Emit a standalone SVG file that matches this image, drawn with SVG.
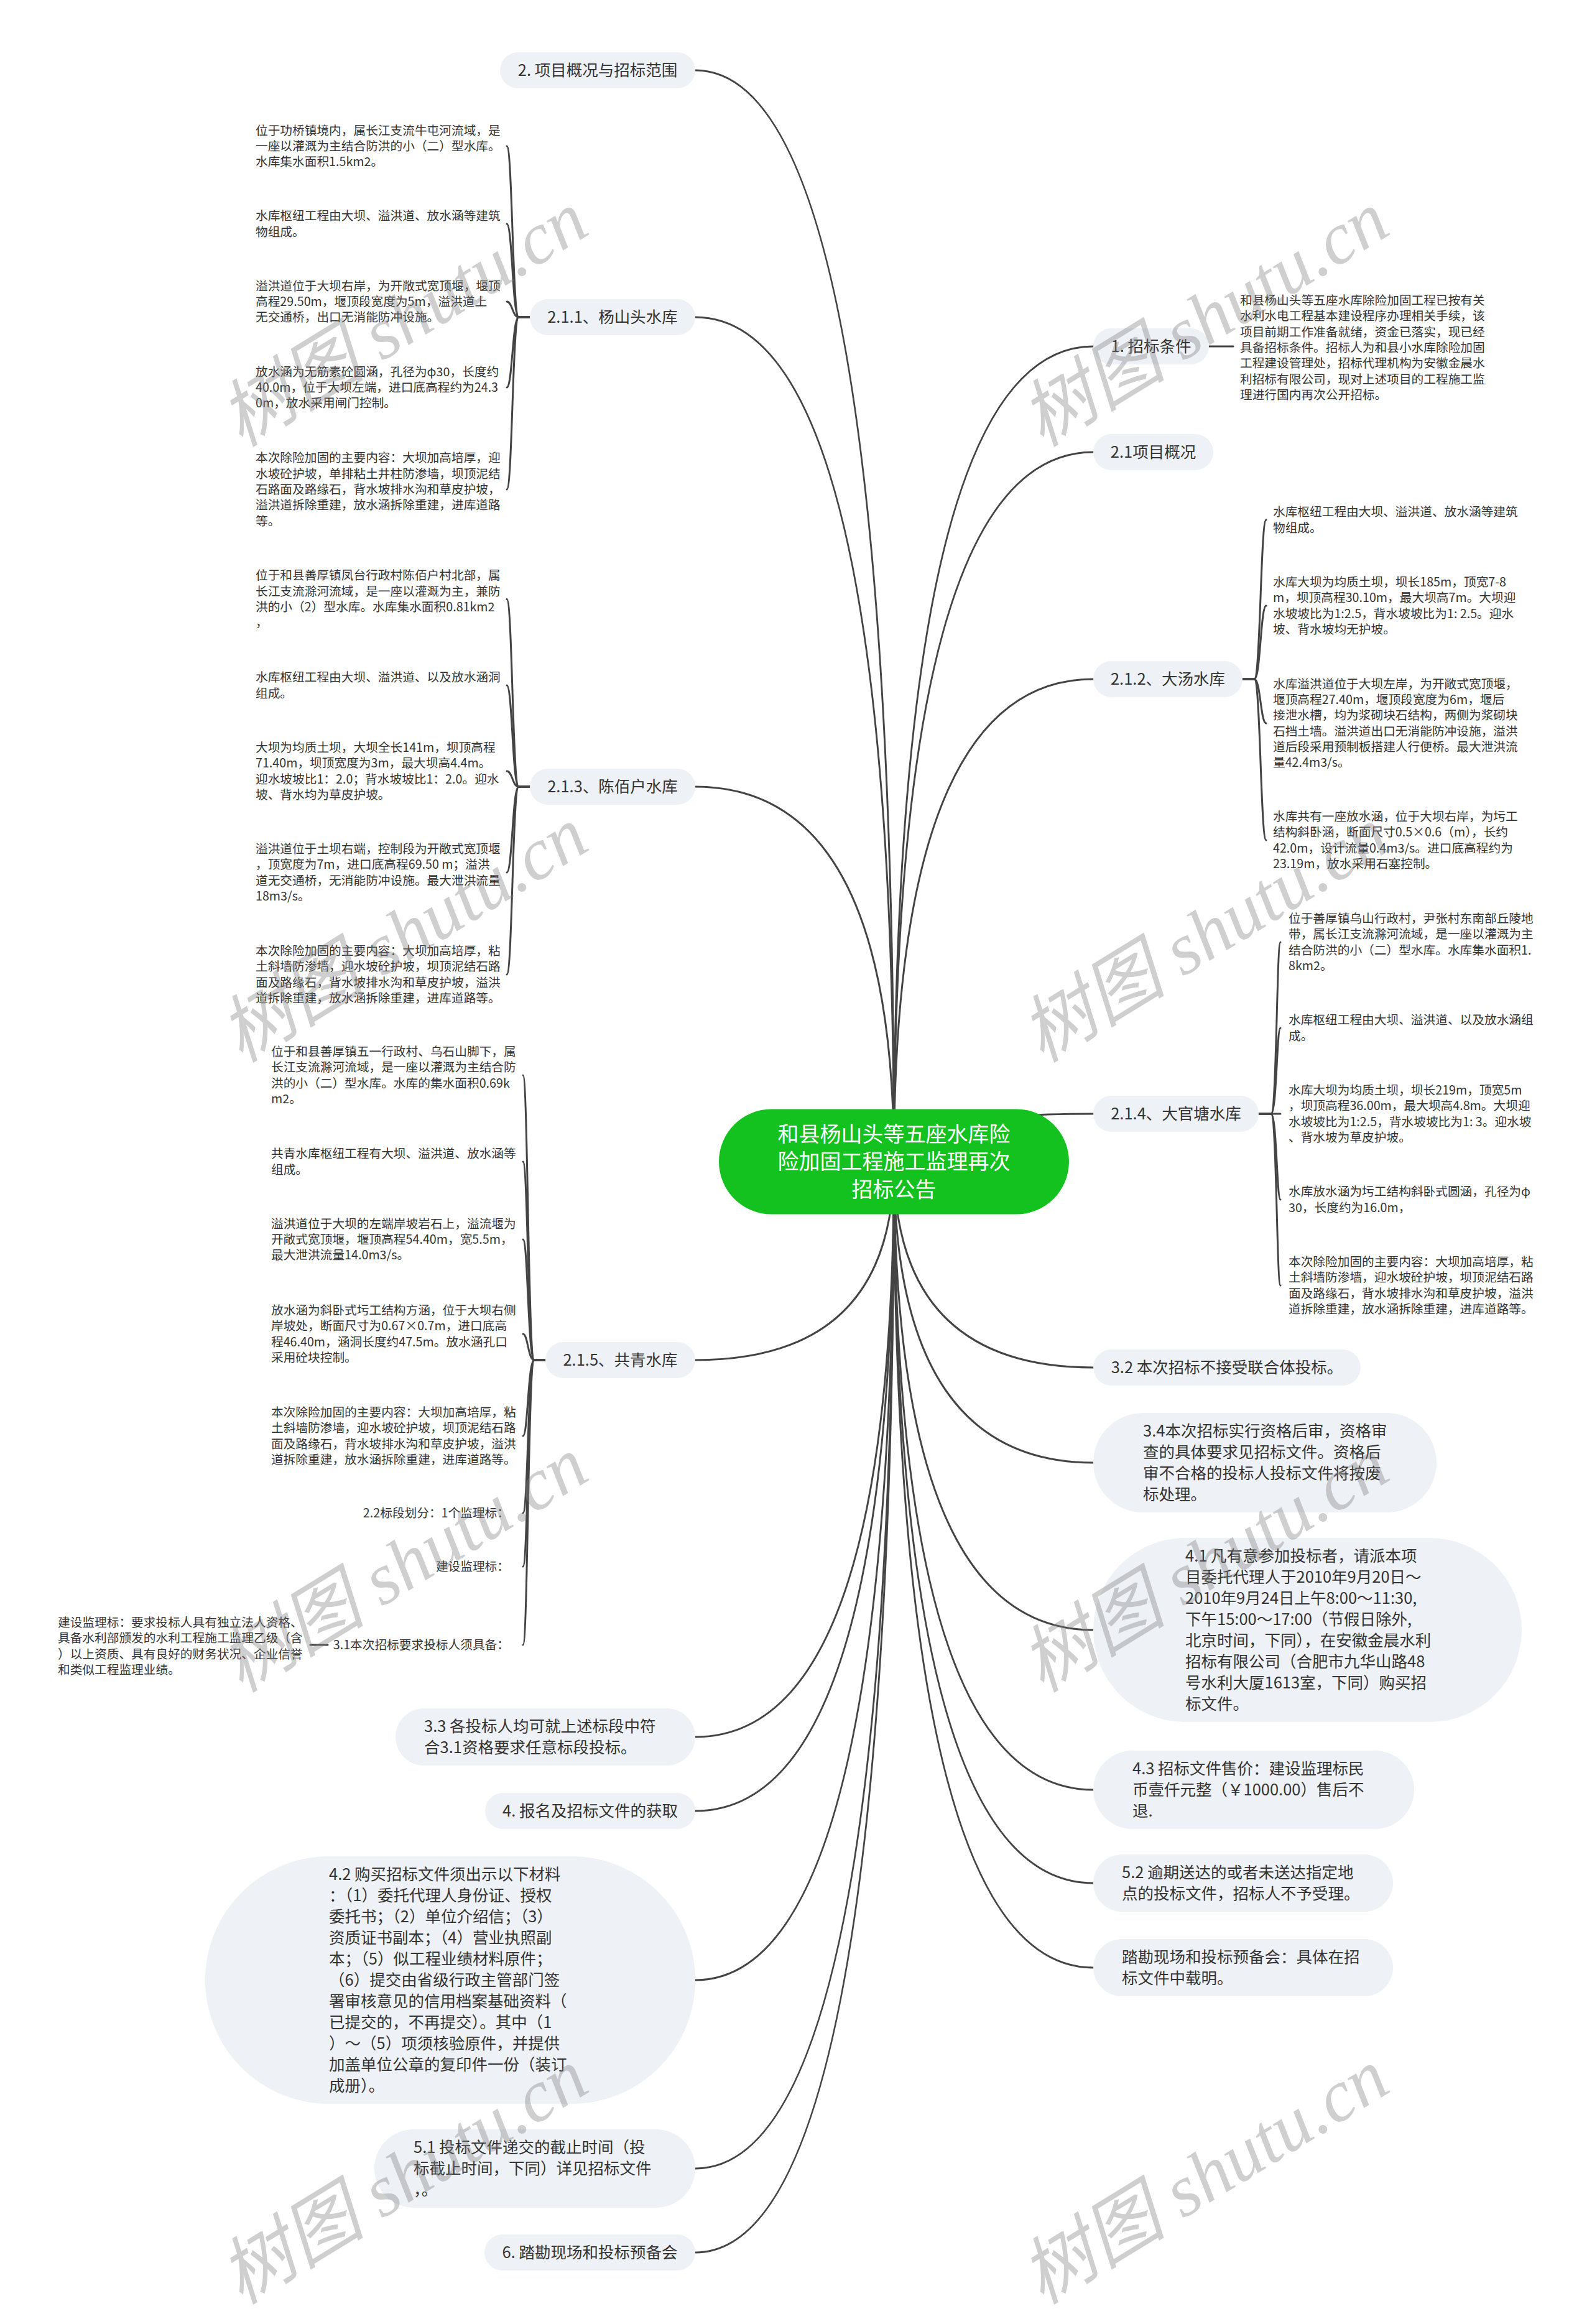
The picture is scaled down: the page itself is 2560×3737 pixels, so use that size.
<svg xmlns="http://www.w3.org/2000/svg" width="2560" height="3737" viewBox="0 0 2560 3737">
<style>
.c{fill:none;stroke:#444;stroke-width:3;stroke-linecap:round}
.b{fill:#eef1f5}
.t{font-family:"Noto Sans CJK SC","Noto Sans",sans-serif;fill:#333}
.m{font-size:25.5px}
.l{font-size:19.7px}
.mid{text-anchor:middle}
.end{text-anchor:end}
.r{fill:#14c21f}
.rt{font-family:"Noto Sans CJK SC","Noto Sans",sans-serif;font-size:34px;fill:#fff;text-anchor:middle}
.w{font-family:"Liberation Serif","Noto Sans CJK SC",serif;font-size:118px;font-style:italic;fill:#808080;fill-opacity:.38;text-anchor:middle}
</style>
<rect width="2560" height="3737" fill="#fff"/>
<g id="connectors">
<path class="c" d="M1437.5 1868Q1437.5 113 1118 113"/>
<path class="c" d="M1437.5 1868Q1437.5 510 1118 510"/>
<path class="c" d="M1437.5 1868Q1437.5 1265 1118 1265"/>
<path class="c" d="M1437.5 1868Q1437.5 2187 1118 2187"/>
<path class="c" d="M1437.5 1868Q1437.5 2793 1118 2793"/>
<path class="c" d="M1437.5 1868Q1437.5 2912 1118 2912"/>
<path class="c" d="M1437.5 1868Q1437.5 3184 1118 3184"/>
<path class="c" d="M1437.5 1868Q1437.5 3487 1118 3487"/>
<path class="c" d="M1437.5 1868Q1437.5 3622 1118 3622"/>
<path class="c" d="M1437.5 1868Q1437.5 557 1758 557"/>
<path class="c" d="M1437.5 1868Q1437.5 727 1758 727"/>
<path class="c" d="M1437.5 1868Q1437.5 1092 1758 1092"/>
<path class="c" d="M1437.5 1868Q1437.5 1791 1758 1791"/>
<path class="c" d="M1437.5 1868Q1437.5 2199 1758 2199"/>
<path class="c" d="M1437.5 1868Q1437.5 2352 1758 2352"/>
<path class="c" d="M1437.5 1868Q1437.5 2621 1758 2621"/>
<path class="c" d="M1437.5 1868Q1437.5 2878 1758 2878"/>
<path class="c" d="M1437.5 1868Q1437.5 3028 1758 3028"/>
<path class="c" d="M1437.5 1868Q1437.5 3164 1758 3164"/>
<path class="c" d="M852 510H834C824 510 824 235 815 235"/>
<path class="c" d="M852 510H834C824 510 824 360 815 360"/>
<path class="c" d="M852 510H834C824 510 824 485 815 485"/>
<path class="c" d="M852 510H834C824 510 824 623 815 623"/>
<path class="c" d="M852 510H834C824 510 824 787 815 787"/>
<path class="c" d="M852 1265H834C824 1265 824 963.5 815 963.5"/>
<path class="c" d="M852 1265H834C824 1265 824 1102 815 1102"/>
<path class="c" d="M852 1265H834C824 1265 824 1240 815 1240"/>
<path class="c" d="M852 1265H834C824 1265 824 1403 815 1403"/>
<path class="c" d="M852 1265H834C824 1265 824 1567 815 1567"/>
<path class="c" d="M877 2187H859C849 2187 849 1729 841 1729"/>
<path class="c" d="M877 2187H859C849 2187 849 1868 841 1868"/>
<path class="c" d="M877 2187H859C849 2187 849 1993 841 1993"/>
<path class="c" d="M877 2187H859C849 2187 849 2145 841 2145"/>
<path class="c" d="M877 2187H859C849 2187 849 2309 841 2309"/>
<path class="c" d="M877 2187H859C849 2187 849 2433 841 2433"/>
<path class="c" d="M877 2187H859C849 2187 849 2519 841 2519"/>
<path class="c" d="M877 2187H859C849 2187 849 2645 841 2645"/>
<path class="c" d="M527 2645H499"/>
<path class="c" d="M1944 557H1983"/>
<path class="c" d="M1998 1092H2017C2027 1092 2027 836 2036 836"/>
<path class="c" d="M1998 1092H2017C2027 1092 2027 974 2036 974"/>
<path class="c" d="M1998 1092H2017C2027 1092 2027 1163 2036 1163"/>
<path class="c" d="M1998 1092H2017C2027 1092 2027 1351 2036 1351"/>
<path class="c" d="M2024 1791H2044C2053 1791 2053 1515 2059 1515"/>
<path class="c" d="M2024 1791H2044C2053 1791 2053 1653 2059 1653"/>
<path class="c" d="M2024 1791H2059"/>
<path class="c" d="M2024 1791H2044C2053 1791 2053 1929 2059 1929"/>
<path class="c" d="M2024 1791H2044C2053 1791 2053 2067 2059 2067"/>
</g>

<g id="root">
<rect class="r" x="1156" y="1783.5" width="563" height="169" rx="84.5"/>
<text class="rt" x="1437.5" y="1835.5">和县杨山头等五座水库险</text>
<text class="rt" x="1437.5" y="1880">险加固工程施工监理再次</text>
<text class="rt" x="1437.5" y="1924.5">招标公告</text>
</g>

<g id="n2">
<rect class="b" x="804" y="84" width="314" height="58" rx="29"/>
<text class="t m mid" x="961" y="122">2. 项目概况与招标范围</text>
</g>
<g id="n211">
<rect class="b" x="852" y="481" width="266" height="58" rx="29"/>
<text class="t m mid" x="985" y="519">2.1.1、杨山头水库</text>
</g>
<g id="n211-leaves">
<text class="t l" x="411" y="216.6"><tspan x="411">位于功桥镇境内，属长江支流牛屯河流域，是</tspan><tspan x="411" dy="25.3">一座以灌溉为主结合防洪的小（二）型水库。</tspan><tspan x="411" dy="25.3">水库集水面积1.5km2。</tspan></text>
<text class="t l" x="411" y="354.25"><tspan x="411">水库枢纽工程由大坝、溢洪道、放水涵等建筑</tspan><tspan x="411" dy="25.3">物组成。</tspan></text>
<text class="t l" x="411" y="466.6"><tspan x="411">溢洪道位于大坝右岸，为开敞式宽顶堰，堰顶</tspan><tspan x="411" dy="25.3">高程29.50m，堰顶段宽度为5m，溢洪道上</tspan><tspan x="411" dy="25.3">无交通桥，出口无消能防冲设施。</tspan></text>
<text class="t l" x="411" y="604.6"><tspan x="411">放水涵为无筋素砼圆涵，孔径为φ30，长度约</tspan><tspan x="411" dy="25.3">40.0m，位于大坝左端，进口底高程约为24.3</tspan><tspan x="411" dy="25.3">0m，放水采用闸门控制。</tspan></text>
<text class="t l" x="411" y="743.3"><tspan x="411">本次除险加固的主要内容：大坝加高培厚，迎</tspan><tspan x="411" dy="25.3">水坡砼护坡，单排粘土井柱防渗墙，坝顶泥结</tspan><tspan x="411" dy="25.3">石路面及路缘石，背水坡排水沟和草皮护坡，</tspan><tspan x="411" dy="25.3">溢洪道拆除重建，放水涵拆除重建，进库道路</tspan><tspan x="411" dy="25.3">等。</tspan></text>
</g>
<g id="n213">
<rect class="b" x="852" y="1236" width="266" height="58" rx="29"/>
<text class="t m mid" x="985" y="1274">2.1.3、陈佰户水库</text>
</g>
<g id="n213-leaves">
<text class="t l" x="411" y="932.45"><tspan x="411">位于和县善厚镇凤台行政村陈佰户村北部，属</tspan><tspan x="411" dy="25.3">长江支流滁河流域，是一座以灌溉为主，兼防</tspan><tspan x="411" dy="25.3">洪的小（2）型水库。水库集水面积0.81km2</tspan><tspan x="411" dy="25.3">，</tspan></text>
<text class="t l" x="411" y="1096.25"><tspan x="411">水库枢纽工程由大坝、溢洪道、以及放水涵洞</tspan><tspan x="411" dy="25.3">组成。</tspan></text>
<text class="t l" x="411" y="1208.95"><tspan x="411">大坝为均质土坝，大坝全长141m，坝顶高程</tspan><tspan x="411" dy="25.3">71.40m，坝顶宽度为3m，最大坝高4.4m。</tspan><tspan x="411" dy="25.3">迎水坡坡比1：2.0；背水坡坡比1：2.0。迎水</tspan><tspan x="411" dy="25.3">坡、背水均为草皮护坡。</tspan></text>
<text class="t l" x="411" y="1371.95"><tspan x="411">溢洪道位于土坝右端，控制段为开敞式宽顶堰</tspan><tspan x="411" dy="25.3">，顶宽度为7m，进口底高程69.50 m；溢洪</tspan><tspan x="411" dy="25.3">道无交通桥，无消能防冲设施。最大泄洪流量</tspan><tspan x="411" dy="25.3">18m3/s。</tspan></text>
<text class="t l" x="411" y="1535.95"><tspan x="411">本次除险加固的主要内容：大坝加高培厚，粘</tspan><tspan x="411" dy="25.3">土斜墙防渗墙，迎水坡砼护坡，坝顶泥结石路</tspan><tspan x="411" dy="25.3">面及路缘石，背水坡排水沟和草皮护坡，溢洪</tspan><tspan x="411" dy="25.3">道拆除重建，放水涵拆除重建，进库道路等。</tspan></text>
</g>
<g id="n215">
<rect class="b" x="877" y="2158" width="241" height="58" rx="29"/>
<text class="t m mid" x="997.5" y="2196">2.1.5、共青水库</text>
</g>
<g id="n215-leaves">
<text class="t l" x="436" y="1697.95"><tspan x="436">位于和县善厚镇五一行政村、乌石山脚下，属</tspan><tspan x="436" dy="25.3">长江支流滁河流域，是一座以灌溉为主结合防</tspan><tspan x="436" dy="25.3">洪的小（二）型水库。水库的集水面积0.69k</tspan><tspan x="436" dy="25.3">m2。</tspan></text>
<text class="t l" x="436" y="1862.25"><tspan x="436">共青水库枢纽工程有大坝、溢洪道、放水涵等</tspan><tspan x="436" dy="25.3">组成。</tspan></text>
<text class="t l" x="436" y="1974.6"><tspan x="436">溢洪道位于大坝的左端岸坡岩石上，溢流堰为</tspan><tspan x="436" dy="25.3">开敞式宽顶堰，堰顶高程54.40m，宽5.5m，</tspan><tspan x="436" dy="25.3">最大泄洪流量14.0m3/s。</tspan></text>
<text class="t l" x="436" y="2113.95"><tspan x="436">放水涵为斜卧式圬工结构方涵，位于大坝右侧</tspan><tspan x="436" dy="25.3">岸坡处，断面尺寸为0.67×0.7m，进口底高</tspan><tspan x="436" dy="25.3">程46.40m，涵洞长度约47.5m。放水涵孔口</tspan><tspan x="436" dy="25.3">采用砼块控制。</tspan></text>
<text class="t l" x="436" y="2277.95"><tspan x="436">本次除险加固的主要内容：大坝加高培厚，粘</tspan><tspan x="436" dy="25.3">土斜墙防渗墙，迎水坡砼护坡，坝顶泥结石路</tspan><tspan x="436" dy="25.3">面及路缘石，背水坡排水沟和草皮护坡，溢洪</tspan><tspan x="436" dy="25.3">道拆除重建，放水涵拆除重建，进库道路等。</tspan></text>
</g>
<g id="n22">
<text class="t l end" x="819" y="2439.9">2.2标段划分：1个监理标：</text>
</g>
<g id="njs">
<text class="t l end" x="819" y="2525.9">建设监理标：</text>
</g>
<g id="n31">
<text class="t l end" x="819" y="2651.9">3.1本次招标要求投标人须具备：</text>
</g>
<g id="n31-leaf">
<text class="t l" x="93" y="2615.95"><tspan x="93">建设监理标：要求投标人具有独立法人资格、</tspan><tspan x="93" dy="25.3">具备水利部颁发的水利工程施工监理乙级（含</tspan><tspan x="93" dy="25.3">）以上资质、具有良好的财务状况、企业信誉</tspan><tspan x="93" dy="25.3">和类似工程监理业绩。</tspan></text>
</g>
<g id="n33">
<rect class="b" x="636" y="2747" width="482" height="92" rx="46"/>
<text class="t m" x="682" y="2785"><tspan x="682">3.3 各投标人均可就上述标段中符</tspan><tspan x="682" dy="34">合3.1资格要求任意标段投标。</tspan></text>
</g>
<g id="n4">
<rect class="b" x="780" y="2883" width="338" height="58" rx="29"/>
<text class="t m mid" x="949" y="2921">4. 报名及招标文件的获取</text>
</g>
<g id="n42">
<rect class="b" x="330" y="2985" width="788" height="398" rx="199"/>
<text class="t m" x="529" y="3023"><tspan x="529">4.2 购买招标文件须出示以下材料</tspan><tspan x="529" dy="34">：（1）委托代理人身份证、授权</tspan><tspan x="529" dy="34">委托书；（2）单位介绍信；（3）</tspan><tspan x="529" dy="34">资质证书副本；（4）营业执照副</tspan><tspan x="529" dy="34">本；（5）似工程业绩材料原件；</tspan><tspan x="529" dy="34">（6）提交由省级行政主管部门签</tspan><tspan x="529" dy="34">署审核意见的信用档案基础资料（</tspan><tspan x="529" dy="34">已提交的，不再提交）。其中（1</tspan><tspan x="529" dy="34">）～（5）项须核验原件，并提供</tspan><tspan x="529" dy="34">加盖单位公章的复印件一份（装订</tspan><tspan x="529" dy="34">成册）。</tspan></text>
</g>
<g id="n51">
<rect class="b" x="602" y="3424" width="516" height="126" rx="63"/>
<text class="t m" x="665" y="3462"><tspan x="665">5.1 投标文件递交的截止时间（投</tspan><tspan x="665" dy="34">标截止时间，下同）详见招标文件</tspan><tspan x="665" dy="34">，。</tspan></text>
</g>
<g id="n6">
<rect class="b" x="779" y="3593" width="339" height="58" rx="29"/>
<text class="t m mid" x="948.5" y="3631">6. 踏勘现场和投标预备会</text>
</g>

<g id="n1">
<rect class="b" x="1758" y="528" width="186" height="58" rx="29"/>
<text class="t m mid" x="1851" y="566">1. 招标条件</text>
</g>
<g id="n1-leaf">
<text class="t l" x="1994" y="490"><tspan x="1994">和县杨山头等五座水库除险加固工程已按有关</tspan><tspan x="1994" dy="25.3">水利水电工程基本建设程序办理相关手续，该</tspan><tspan x="1994" dy="25.3">项目前期工作准备就绪，资金已落实，现已经</tspan><tspan x="1994" dy="25.3">具备招标条件。招标人为和县小水库除险加固</tspan><tspan x="1994" dy="25.3">工程建设管理处，招标代理机构为安徽金晨水</tspan><tspan x="1994" dy="25.3">利招标有限公司，现对上述项目的工程施工监</tspan><tspan x="1994" dy="25.3">理进行国内再次公开招标。</tspan></text>
</g>
<g id="n21">
<rect class="b" x="1758" y="698" width="193" height="58" rx="29"/>
<text class="t m mid" x="1854.5" y="736">2.1项目概况</text>
</g>
<g id="n212">
<rect class="b" x="1758" y="1063" width="240" height="58" rx="29"/>
<text class="t m mid" x="1878" y="1101">2.1.2、大汤水库</text>
</g>
<g id="n212-leaves">
<text class="t l" x="2047" y="830.25"><tspan x="2047">水库枢纽工程由大坝、溢洪道、放水涵等建筑</tspan><tspan x="2047" dy="25.3">物组成。</tspan></text>
<text class="t l" x="2047" y="942.95"><tspan x="2047">水库大坝为均质土坝，坝长185m，顶宽7-8</tspan><tspan x="2047" dy="25.3">m，坝顶高程30.10m，最大坝高7m。大坝迎</tspan><tspan x="2047" dy="25.3">水坡坡比为1:2.5，背水坡坡比为1: 2.5。迎水</tspan><tspan x="2047" dy="25.3">坡、背水坡均无护坡。</tspan></text>
<text class="t l" x="2047" y="1106.65"><tspan x="2047">水库溢洪道位于大坝左岸，为开敞式宽顶堰，</tspan><tspan x="2047" dy="25.3">堰顶高程27.40m，堰顶段宽度为6m，堰后</tspan><tspan x="2047" dy="25.3">接泄水槽，均为浆砌块石结构，两侧为浆砌块</tspan><tspan x="2047" dy="25.3">石挡土墙。溢洪道出口无消能防冲设施，溢洪</tspan><tspan x="2047" dy="25.3">道后段采用预制板搭建人行便桥。最大泄洪流</tspan><tspan x="2047" dy="25.3">量42.4m3/s。</tspan></text>
<text class="t l" x="2047" y="1319.95"><tspan x="2047">水库共有一座放水涵，位于大坝右岸，为圬工</tspan><tspan x="2047" dy="25.3">结构斜卧涵，断面尺寸0.5×0.6（m），长约</tspan><tspan x="2047" dy="25.3">42.0m，设计流量0.4m3/s。进口底高程约为</tspan><tspan x="2047" dy="25.3">23.19m，放水采用石塞控制。</tspan></text>
</g>
<g id="n214">
<rect class="b" x="1758" y="1762" width="266" height="58" rx="29"/>
<text class="t m mid" x="1891" y="1800">2.1.4、大官塘水库</text>
</g>
<g id="n214-leaves">
<text class="t l" x="2072" y="1483.95"><tspan x="2072">位于善厚镇乌山行政村，尹张村东南部丘陵地</tspan><tspan x="2072" dy="25.3">带，属长江支流滁河流域，是一座以灌溉为主</tspan><tspan x="2072" dy="25.3">结合防洪的小（二）型水库。水库集水面积1.</tspan><tspan x="2072" dy="25.3">8km2。</tspan></text>
<text class="t l" x="2072" y="1647.25"><tspan x="2072">水库枢纽工程由大坝、溢洪道、以及放水涵组</tspan><tspan x="2072" dy="25.3">成。</tspan></text>
<text class="t l" x="2072" y="1759.95"><tspan x="2072">水库大坝为均质土坝，坝长219m，顶宽5m</tspan><tspan x="2072" dy="25.3">，坝顶高程36.00m，最大坝高4.8m。大坝迎</tspan><tspan x="2072" dy="25.3">水坡坡比为1:2.5，背水坡坡比为1: 3。迎水坡</tspan><tspan x="2072" dy="25.3">、背水坡为草皮护坡。</tspan></text>
<text class="t l" x="2072" y="1923.25"><tspan x="2072">水库放水涵为圬工结构斜卧式圆涵，孔径为φ</tspan><tspan x="2072" dy="25.3">30，长度约为16.0m，</tspan></text>
<text class="t l" x="2072" y="2035.95"><tspan x="2072">本次除险加固的主要内容：大坝加高培厚，粘</tspan><tspan x="2072" dy="25.3">土斜墙防渗墙，迎水坡砼护坡，坝顶泥结石路</tspan><tspan x="2072" dy="25.3">面及路缘石，背水坡排水沟和草皮护坡，溢洪</tspan><tspan x="2072" dy="25.3">道拆除重建，放水涵拆除重建，进库道路等。</tspan></text>
</g>
<g id="n32">
<rect class="b" x="1758" y="2170" width="430" height="58" rx="29"/>
<text class="t m mid" x="1973" y="2208">3.2 本次招标不接受联合体投标。</text>
</g>
<g id="n34">
<rect class="b" x="1758" y="2272" width="552" height="160" rx="80"/>
<text class="t m" x="1838" y="2310"><tspan x="1838">3.4本次招标实行资格后审，资格审</tspan><tspan x="1838" dy="34">查的具体要求见招标文件。资格后</tspan><tspan x="1838" dy="34">审不合格的投标人投标文件将按废</tspan><tspan x="1838" dy="34">标处理。</tspan></text>
</g>
<g id="n41">
<rect class="b" x="1758" y="2473" width="689" height="296" rx="148"/>
<text class="t m" x="1906" y="2511"><tspan x="1906">4.1 凡有意参加投标者，请派本项</tspan><tspan x="1906" dy="34">目委托代理人于2010年9月20日～</tspan><tspan x="1906" dy="34">2010年9月24日上午8:00～11:30,</tspan><tspan x="1906" dy="34">下午15:00～17:00（节假日除外,</tspan><tspan x="1906" dy="34">北京时间，下同），在安徽金晨水利</tspan><tspan x="1906" dy="34">招标有限公司（合肥市九华山路48</tspan><tspan x="1906" dy="34">号水利大厦1613室，下同）购买招</tspan><tspan x="1906" dy="34">标文件。</tspan></text>
</g>
<g id="n43">
<rect class="b" x="1758" y="2815" width="516" height="126" rx="63"/>
<text class="t m" x="1821" y="2853"><tspan x="1821">4.3 招标文件售价：建设监理标民</tspan><tspan x="1821" dy="34">币壹仟元整（￥1000.00）售后不</tspan><tspan x="1821" dy="34">退.</tspan></text>
</g>
<g id="n52">
<rect class="b" x="1758" y="2982" width="482" height="92" rx="46"/>
<text class="t m" x="1804" y="3020"><tspan x="1804">5.2 逾期送达的或者未送达指定地</tspan><tspan x="1804" dy="34">点的投标文件，招标人不予受理。</tspan></text>
</g>
<g id="n7">
<rect class="b" x="1758" y="3118" width="482" height="92" rx="46"/>
<text class="t m" x="1804" y="3156"><tspan x="1804">踏勘现场和投标预备会：具体在招</tspan><tspan x="1804" dy="34">标文件中载明。</tspan></text>
</g>

<g id="watermarks">
<text class="w" x="649" y="553" transform="rotate(-31.5 649 513)">树图 shutu.cn</text>
<text class="w" x="1937" y="553" transform="rotate(-31.5 1937 513)">树图 shutu.cn</text>
<text class="w" x="649" y="1543" transform="rotate(-31.5 649 1503)">树图 shutu.cn</text>
<text class="w" x="1937" y="1543" transform="rotate(-31.5 1937 1503)">树图 shutu.cn</text>
<text class="w" x="649" y="2556" transform="rotate(-31.5 649 2516)">树图 shutu.cn</text>
<text class="w" x="1937" y="2556" transform="rotate(-31.5 1937 2516)">树图 shutu.cn</text>
<text class="w" x="649" y="3540" transform="rotate(-31.5 649 3500)">树图 shutu.cn</text>
<text class="w" x="1937" y="3540" transform="rotate(-31.5 1937 3500)">树图 shutu.cn</text>
</g>
</svg>
